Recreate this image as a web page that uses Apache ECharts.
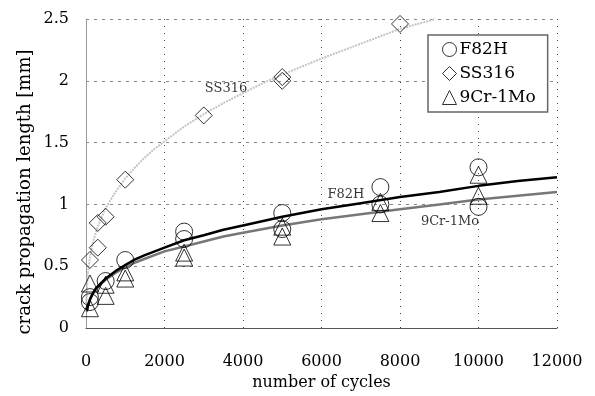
<!DOCTYPE html>
<html>
<head>
<meta charset="utf-8">
<script src="https://cdn.jsdelivr.net/npm/echarts@6/dist/echarts.min.js"></script>
<style>html,body{margin:0;padding:0;background:#fff}#c{width:595px;height:396px}</style>
</head>
<body>
<div id="c"></div>
<script>
// Measured points [cycles, length mm]
const f82hPoints = [[100,0.25],[100,0.21],[500,0.38],[1000,0.55],[2500,0.78],[2500,0.72],[5000,0.93],[5000,0.80],[7500,1.14],[7500,1.00],[10000,1.30],[10000,0.98]];
const ss316Points = [[100,0.55],[300,0.65],[300,0.85],[500,0.90],[1000,1.20],[3000,1.72],[5000,2.00],[5000,2.03],[8000,2.46]];
const cr9Points = [[100,0.16],[100,0.36],[500,0.35],[500,0.26],[1000,0.45],[1000,0.40],[2500,0.61],[2500,0.57],[5000,0.82],[5000,0.74],[7500,1.02],[7500,0.93],[10000,1.24],[10000,1.07]];
// Fitted curves
const f82hCurve = [[20,0.14],[50,0.18],[100,0.23],[175,0.28],[250,0.32],[375,0.36],[500,0.40],[750,0.46],[1000,0.51],[1250,0.555],[1500,0.59],[2000,0.65],[2500,0.71],[3000,0.75],[3500,0.795],[4000,0.83],[5000,0.90],[6000,0.96],[7000,1.01],[8000,1.06],[9000,1.10],[10000,1.15],[11000,1.19],[12000,1.22]];
const cr9Curve = [[20,0.13],[50,0.18],[100,0.23],[175,0.28],[250,0.31],[375,0.355],[500,0.39],[750,0.445],[1000,0.49],[1250,0.53],[1500,0.56],[2000,0.62],[2500,0.66],[3000,0.70],[3500,0.74],[4000,0.77],[5000,0.83],[6000,0.88],[7000,0.92],[8000,0.96],[9000,1.00],[10000,1.04],[11000,1.07],[12000,1.10]];
const ss316Curve = [[10,0.2],[25,0.33],[50,0.45],[100,0.57],[150,0.65],[200,0.72],[300,0.82],[400,0.90],[500,0.97],[750,1.10],[1000,1.21],[1250,1.30],[1500,1.38],[1750,1.45],[2000,1.51],[2500,1.63],[3000,1.73],[3500,1.82],[4000,1.90],[4500,1.98],[5000,2.05],[6000,2.18],[7000,2.30],[8000,2.42],[8900,2.50]];
const curveLabels = [{name:'SS316', value:[3567,1.94]},{name:'F82H', value:[6624,1.08]},{name:'9Cr-1Mo', value:[9274,0.857]}];
const seriesNames = ['F82H','SS316','9Cr-1Mo'];

const FONT = 'DejaVu Serif';
const chart = echarts.init(document.getElementById('c'), null, {renderer:'canvas'});
const markerStyle = {color:'rgba(0,0,0,0)', borderColor:'#000', borderWidth:1};
chart.setOption({
  animation:false,
  backgroundColor:'#fff',
  grid:{left:86, right:38, top:19, bottom:68, containLabel:false},
  xAxis:{type:'value', min:0, max:12000, interval:2000,
    name:'number of cycles', nameLocation:'middle', nameGap:43,
    nameTextStyle:{fontFamily:FONT, fontSize:16, color:'#000'},
    axisLine:{show:true, lineStyle:{color:'#555', width:1}},
    axisTick:{show:false},
    axisLabel:{fontFamily:FONT, fontSize:16, color:'#000', margin:26, formatter:(v)=>String(v)},
    splitLine:{show:true, lineStyle:{color:'#444', type:[1,6], width:1}}
  },
  yAxis:{type:'value', min:0, max:2.5, interval:0.5,
    axisLine:{show:true, lineStyle:{color:'#999', width:1}},
    axisTick:{show:false},
    axisLabel:{fontFamily:FONT, fontSize:16, color:'#000', margin:17},
    splitLine:{show:true, lineStyle:{color:'#888', type:[3,5], width:1}}
  },
  legend:{data:seriesNames, orient:'vertical', left:428, top:35,
    padding:[6,12,6,14], itemGap:7, itemWidth:14, itemHeight:14,
    backgroundColor:'#fff', borderColor:'#666', borderWidth:1.5, borderRadius:0,
    textStyle:{fontFamily:FONT, fontSize:17, color:'#000', padding:[0,0,0,-2]},
    itemStyle:markerStyle
  },
  graphic:[{type:'text', x:25, y:192, rotation:Math.PI/2,
    style:{text:'crack propagation length [mm]', font:'18px "DejaVu Serif"', fill:'#000', textAlign:'center', textVerticalAlign:'middle'}}],
  series:[
    {type:'line', name:'ss316fit', data:ss316Curve, showSymbol:false, silent:true,
      lineStyle:{color:'#c4c4c4', width:2, type:[2,1]}, z:1},
    {type:'line', name:'cr9fit', data:cr9Curve, showSymbol:false, silent:true,
      lineStyle:{color:'#777', width:2.5}, z:2},
    {type:'line', name:'f82hfit', data:f82hCurve, showSymbol:false, silent:true,
      lineStyle:{color:'#000', width:2.5}, z:3},
    {type:'scatter', name:'F82H', data:f82hPoints, symbol:'circle', symbolSize:17, itemStyle:markerStyle, z:5},
    {type:'scatter', name:'SS316', data:ss316Points, symbol:'diamond', symbolSize:17, itemStyle:markerStyle, z:5},
    {type:'scatter', name:'9Cr-1Mo', data:cr9Points, symbol:'triangle', symbolSize:17, itemStyle:markerStyle, z:5},
    {type:'scatter', name:'labels', data:curveLabels, symbolSize:0, silent:true, z:6,
      label:{show:true, position:'inside', formatter:'{b}', fontFamily:FONT, fontSize:13, color:'#000'}}
  ]
});
</script>
</body>
</html>
